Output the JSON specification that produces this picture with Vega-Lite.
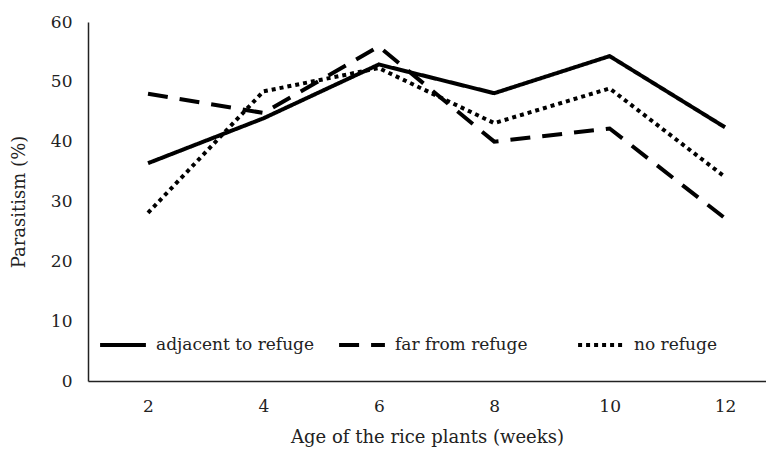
{
  "$schema": "https://vega.github.io/schema/vega-lite/v6.json",
  "width": 678,
  "height": 359,
  "autosize": {"type": "none"},
  "padding": {"left": 88, "top": 22, "right": 0, "bottom": 80},
  "background": "white",
  "config": {
    "view": {"stroke": null},
    "font": "DejaVu Serif",
    "axis": {"labelFont": "DejaVu Serif", "titleFont": "DejaVu Serif", "labelColor": "#222", "titleColor": "#222", "titleFontWeight": "normal", "grid": false, "ticks": false, "domainColor": "#222", "domainWidth": 1.5},
    "legend": {"labelFont": "DejaVu Serif", "labelColor": "#222"}
  },
  "data": {
    "values": [
      {"week": 2, "parasitism": 36.4, "site": "adjacent to refuge"},
      {"week": 4, "parasitism": 43.9, "site": "adjacent to refuge"},
      {"week": 6, "parasitism": 52.9, "site": "adjacent to refuge"},
      {"week": 8, "parasitism": 48.1, "site": "adjacent to refuge"},
      {"week": 10, "parasitism": 54.3, "site": "adjacent to refuge"},
      {"week": 12, "parasitism": 42.4, "site": "adjacent to refuge"},
      {"week": 2, "parasitism": 48.0, "site": "far from refuge"},
      {"week": 4, "parasitism": 44.8, "site": "far from refuge"},
      {"week": 6, "parasitism": 55.9, "site": "far from refuge"},
      {"week": 8, "parasitism": 40.0, "site": "far from refuge"},
      {"week": 10, "parasitism": 42.2, "site": "far from refuge"},
      {"week": 12, "parasitism": 27.2, "site": "far from refuge"},
      {"week": 2, "parasitism": 28.1, "site": "no refuge"},
      {"week": 4, "parasitism": 48.4, "site": "no refuge"},
      {"week": 6, "parasitism": 52.3, "site": "no refuge"},
      {"week": 8, "parasitism": 43.1, "site": "no refuge"},
      {"week": 10, "parasitism": 48.9, "site": "no refuge"},
      {"week": 12, "parasitism": 34.1, "site": "no refuge"}
    ]
  },
  "mark": {"type": "line", "color": "black", "strokeWidth": 4, "strokeCap": "butt"},
  "encoding": {
    "x": {
      "field": "week", "type": "quantitative",
      "scale": {"domain": [0.96, 12.71], "nice": false, "zero": false},
      "axis": {"values": [2, 4, 6, 8, 10, 12], "title": "Age of the rice plants (weeks)", "labelFontSize": 17, "titleFontSize": 18, "labelPadding": 17, "titlePadding": 14, "labelFlush": false}
    },
    "y": {
      "field": "parasitism", "type": "quantitative",
      "scale": {"domain": [0, 60], "nice": false},
      "axis": {"values": [0, 10, 20, 30, 40, 50, 60], "title": "Parasitism (%)", "labelFontSize": 17, "titleFontSize": 18, "labelPadding": 16, "titlePadding": 22}
    },
    "strokeDash": {
      "field": "site", "type": "nominal",
      "scale": {"domain": ["adjacent to refuge", "far from refuge", "no refuge"], "range": [[1, 0], [20, 12], [4, 4]]},
      "legend": {
        "title": null, "orient": "none", "legendX": 10, "legendY": 298, "direction": "horizontal",
        "columns": 3, "gridAlign": "all", "columnPadding": 16,
        "symbolType": "stroke", "symbolSize": 2100, "symbolStrokeWidth": 4, "symbolStrokeColor": "black",
        "labelFontSize": 17, "labelOffset": 8, "labelLimit": 300
      }
    }
  }
}
